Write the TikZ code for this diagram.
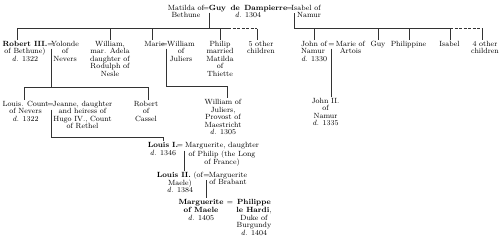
\documentclass[tikz,border=0pt]{standalone}
\usepackage{tikz}
\begin{document}
\begin{tikzpicture}[x=1pt,y=-1pt,
  every node/.style={inner sep=0pt, outer sep=0pt, anchor=north, align=center,
    font=\fontsize{7.5}{7.4}\selectfont},
  wide/.style={font=\fontsize{7.5}{8.5}\selectfont},
  mid/.style={font=\fontsize{7.5}{7.8}\selectfont},
  ln/.style={line width=0.45pt, draw=black!80},
  dsh/.style={ln, dash pattern=on 3pt off 1.5pt},
  gap/.style={shorten >=1.5pt}]
\useasboundingbox (0,0) rectangle (500,241);

% ---- generation 1
\node (mat) at (186,5.3) {Matilda of\\Bethune};
\node (eqA) at (206,5.3) {\vphantom{A}=};
\node (guy) at (248,5.3) {\textbf{Guy\hspace{1.5pt} de\hspace{1.5pt} Dampierre}\\\textit{d.} 1304};
\node (eqB) at (289.5,5.3) {\vphantom{A}=};
\node (isa) at (306,5.3) {Isabel of\\\hspace{6pt}Namur};

% ---- generation 2
\node (rob) at (25,41.3) {\textbf{Robert III.}\\of Bethune)\\\textit{d.} 1322};
\node (eqC) at (50.5,41.3) {\vphantom{A}=};
\node (yol) at (65,41.3) {Yolonde\\of\\Nevers};
\node (wil) at (110,41.3) {William,\\mar. Adela\\daughter of\\Rodulph of\\Nesle};
\node (mar) at (154.5,41.3) {Marie};
\node (eqD) at (164.5,41.3) {\vphantom{A}=};
\node (wjul) at (181,41.3) {William\\of\\Juliers};
\node (phi) at (220,41.3) {Philip\\married\\Matilda\\of\\Thiette};
\node (othf) at (261,41.3) {5 other\\children};
\node[anchor=north west, align=left] (joh) at (301,41.3) {John of\\Namur\\\textit{d.} 1330};
\node (eqE) at (331.5,41.3) {\vphantom{A}=};
\node (mrt) at (350.5,41.3) {Marie of\\Artois};
\node (guyb) at (378,41.3) {Guy};
\node (phl) at (408.5,41.3) {Philippine};
\node (isb) at (449.5,41.3) {Isabel};
\node (othg) at (485,41.3) {4 other\\children};

% ---- generation 3
\node (lou) at (25.5,101.3) {Louis. Count\\of Nevers\\\textit{d.} 1322};
\node (eqF) at (50.5,101.3) {\vphantom{A}=};
\node (jea) at (82.5,101.3) {Jeanne, daughter\\and heiress of\\Hugo IV., Count\\of Rethel};
\node (rca) at (146,101.3) {Robert\\of\\Cassel};
\node (wjp) at (223,99.6) {William of\\Juliers,\\Provost of\\Maestricht\\\textit{d.} 1305};
\node (jot) at (325.5,98.3) {John II.\\of\\Namur\\\textit{d.} 1335};

% ---- generation 4-6
\node[wide] (loa) at (163,142.3) {\textbf{Louis I.}\\\textit{d.} 1346};
\node (eqG) at (180,142.3) {\vphantom{A}=};
\node[wide] (mgd) at (222,142.3) {Marguerite, daughter\\of Philip (the Long\\of France)};
\node[font=\fontsize{7.5}{7.5}\selectfont] (lob) at (180,172.3) {\textbf{Louis II.} (of\\Maele)\\\textit{d.} 1384};
\node (eqH) at (206.5,172.3) {\vphantom{A}=};
\node (mgb) at (228,172.3) {Marguerite\\of Brabant};
\node[mid] (mgm) at (201,199.3) {\textbf{Marguerite}\\\textbf{of Maele}\\\textit{d.} 1405};
\node (eqI) at (230,199.3) {\vphantom{A}=};
\node[mid] (phh) at (254,199.3) {\textbf{Philippe}\\\textbf{le Hardi},\\Duke of\\Burgundy\\\textit{d.} 1404};

% ---- connectors: Guy + Matilda
\coordinate (ga) at (209,12.5);
\coordinate (gb) at (209,28.5);
\coordinate (ba) at (17,28.5);
\coordinate (bb) at (110,28.5);
\coordinate (bc) at (152,28.5);
\coordinate (bd) at (220,28.5);
\coordinate (be) at (228,28.5);
\coordinate (bf) at (257,28.5);
\draw[ln] (ga) -- (gb);
\draw[ln] (ba) -- (be);
\draw[dsh] (be) -- (bf);
\draw[ln,gap] (ba) -- (ba |- rob.north);
\draw[ln,gap] (bb) -- (bb |- wil.north);
\draw[ln,gap] (bc) -- (bc |- mar.north);
\draw[ln,gap] (bd) -- (bd |- phi.north);
\draw[ln,gap] (bf) -- (bf |- othf.north);

% ---- connectors: Guy + Isabel
\coordinate (ia) at (294,13);
\coordinate (ib) at (294,28.5);
\coordinate (ic) at (314,28.5);
\coordinate (id) at (378,28.5);
\coordinate (ie) at (409,28.5);
\coordinate (if) at (450,28.5);
\coordinate (ig) at (482,28.5);
\draw[ln] (ia) -- (ib) -- (if);
\draw[dsh] (if) -- (ig);
\draw[ln,gap] (ic) -- (ic |- joh.north);
\draw[ln,gap] (id) -- (id |- guyb.north);
\draw[ln,gap] (ie) -- (ie |- phl.north);
\draw[ln,gap] (if) -- (if |- isb.north);
\draw[ln,gap] (ig) -- (ig |- othg.north);

% ---- Robert III + Yolonde
\coordinate (ra) at (51,48.5);
\coordinate (rb) at (51,87);
\coordinate (rl) at (24,87);
\coordinate (rr) at (148,87);
\draw[ln] (ra) -- (rb);
\draw[ln] (rl) -- (rr);
\draw[ln,gap] (rl) -- (rl |- lou.north);
\draw[ln,gap] (rr) -- (rr |- rca.north);

% ---- Marie + William of Juliers
\coordinate (ma) at (166,48.5);
\coordinate (mb) at (166,86);
\coordinate (mc) at (227,86);
\draw[ln,gap] (ma) -- (mb) -- (mc) -- (mc |- wjp.north);

% ---- John of Namur + Marie of Artois
\coordinate (ja) at (331,48.5);
\draw[ln,gap] (ja) -- (ja |- jot.north);

% ---- Louis Count + Jeanne
\coordinate (la) at (51,109.5);
\coordinate (lb) at (51,137);
\coordinate (lc) at (163,137);
\draw[ln,gap] (la) -- (lb) -- (lc) -- (lc |- loa.north);

% ---- Louis I + Marguerite
\coordinate (ka) at (184,150.5);
\draw[ln,gap] (ka) -- (ka |- lob.north);

% ---- Louis II + Marguerite of Brabant
\coordinate (na) at (206,180);
\draw[ln,gap] (na) -- (na |- mgm.north);
\end{tikzpicture}
\end{document}
